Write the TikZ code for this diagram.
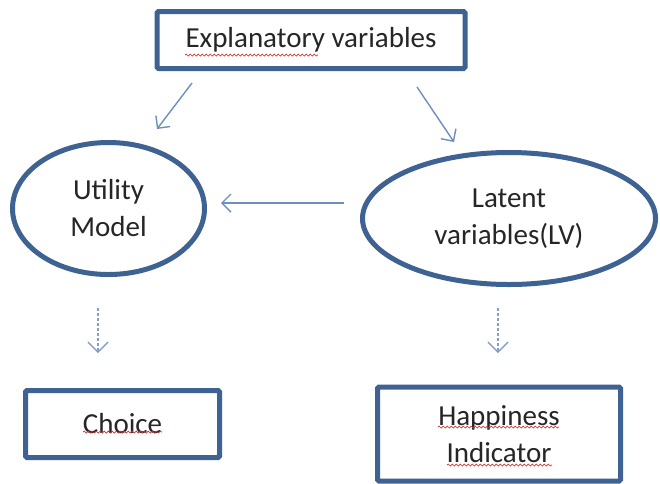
\documentclass[tikz,border=0pt]{standalone}
\usepackage{fontspec}
\setmainfont{Carlito}
\usetikzlibrary{shapes.geometric,arrows.meta,decorations.pathmorphing}
\definecolor{edgeblue}{HTML}{3E6393}
\definecolor{arrowblue}{HTML}{6F8EBF}
\definecolor{spellred}{HTML}{D03030}
\tikzset{
  boxnode/.style={draw=edgeblue, line width=5pt, fill=white, rectangle, rounded corners=1.5pt,
    align=center, inner sep=0pt, font=\fontsize{29}{37}\selectfont, text=black!85},
  ellnode/.style={draw=edgeblue, line width=5pt, fill=white, ellipse,
    align=center, inner sep=0pt, font=\fontsize{29}{37}\selectfont, text=black!85},
  conn/.style={draw=arrowblue, line width=1.4pt, -{Straight Barb[length=9pt,width=18pt,line width=1.4pt]}},
  dconn/.style={draw=arrowblue!85, line width=1.3pt, dash pattern=on 3pt off 2pt,
    -{Straight Barb[length=10pt,width=20pt,line width=1.3pt]}},
  squig/.style={draw=spellred, line width=0.7pt, decorate,
    decoration={snake, amplitude=1pt, segment length=4pt}}
}
\begin{document}
\begin{tikzpicture}[x=1pt,y=-1pt]
\useasboundingbox[fill=white] (0,0) rectangle (660,483);

\node[boxnode, minimum width=308pt, minimum height=57pt] (expl) at (311,40) {Explanatory variables};
\node[ellnode, minimum width=192pt, minimum height=132pt] (util) at (108.5,208.5) {Utility\\Model};
\node[ellnode, minimum width=293pt, minimum height=132pt] (lat) at (509,218.5) {Latent\\variables(LV)};
\node[boxnode, minimum width=194pt, minimum height=67pt] (choice) at (122.5,424) {Choice};
\node[boxnode, minimum width=243pt, minimum height=94pt] (happy) at (499,434) {Happiness\\Indicator};

% connector end points
\coordinate (a1s) at (192,83);  \coordinate (a1e) at (157,129);
\coordinate (a2s) at (417,87);  \coordinate (a2e) at (454,142);
\coordinate (a3s) at (344,203); \coordinate (a3e) at (221,203);
\coordinate (a4s) at (98,308);  \coordinate (a4e) at (98,353);
\coordinate (a5s) at (498,308); \coordinate (a5e) at (498,353);

\draw[conn] (a1s) -- (a1e);
\draw[conn] (a2s) -- (a2e);
\draw[conn] (a3s) -- (a3e);
\draw[dconn] (a4s) -- (a4e);
\draw[dconn] (a5s) -- (a5e);

% spell-check underlines
\draw[squig] (185,55) -- (318,55);
\draw[squig] (83,432) -- (162,432);
\draw[squig] (438,427) -- (559,427);
\draw[squig] (447,465) -- (552,465);
\end{tikzpicture}
\end{document}
